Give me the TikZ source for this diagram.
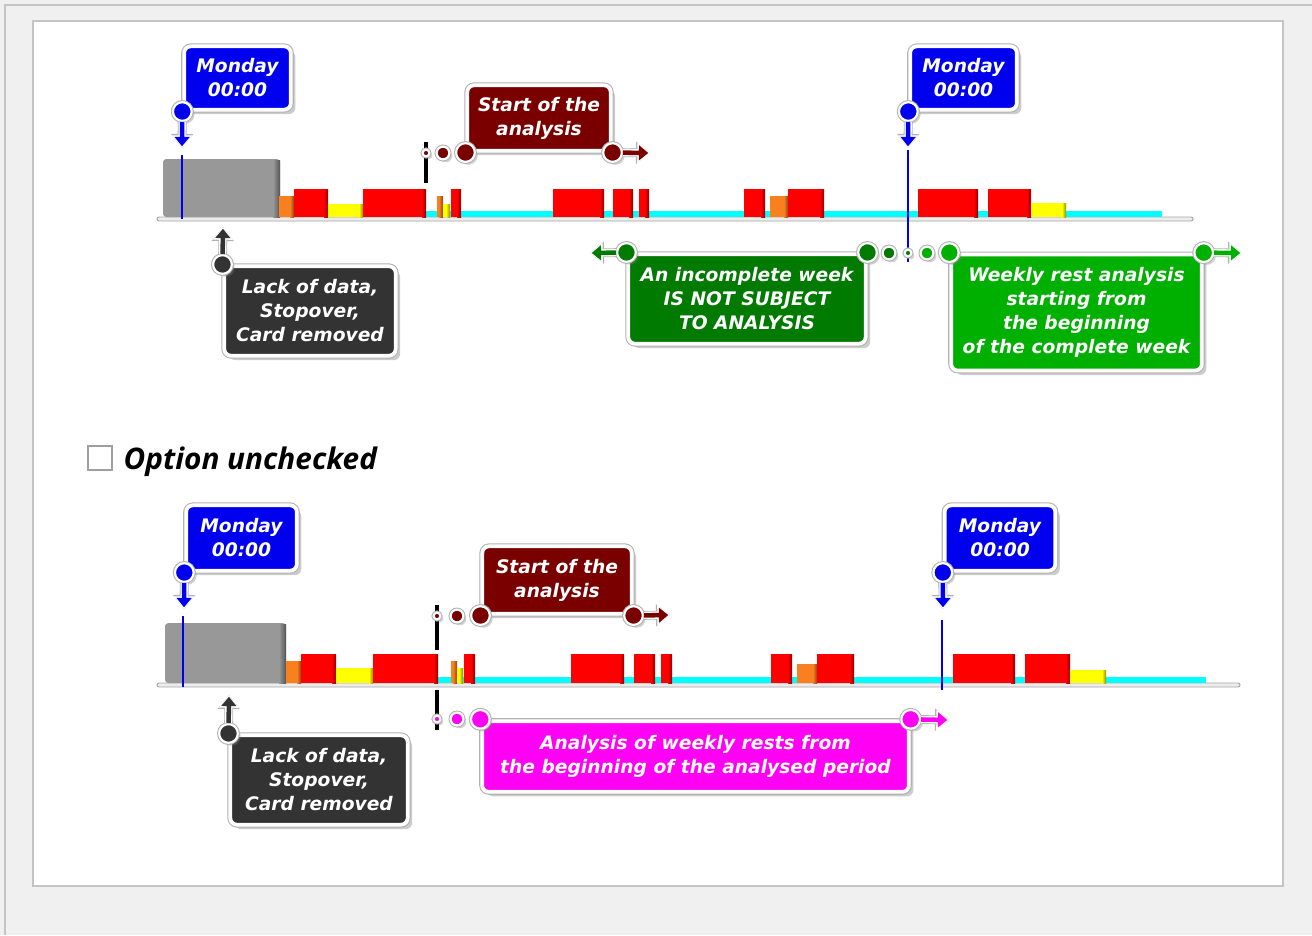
\documentclass[tikz,border=0pt]{standalone}
\usepackage{fontspec}
\usetikzlibrary{arrows.meta,positioning,shadows}
\newfontfamily\calloutfont{DejaVu Sans}[BoldItalicFont={DejaVu Sans Bold Oblique}]
\newfontfamily\optionfont{Open Sans}
\definecolor{pagegrey}{HTML}{F0F0F0}
\definecolor{framegrey}{HTML}{C4C4C4}
\definecolor{monblue}{HTML}{0000EE}
\definecolor{startred}{HTML}{7A0000}
\definecolor{weekgreen}{HTML}{007A00}
\definecolor{restgreen}{HTML}{00B000}
\definecolor{periodpink}{HTML}{FF00F4}
\definecolor{lackgrey}{HTML}{333333}
\definecolor{blockgrey}{HTML}{989898}
\definecolor{tlred}{HTML}{FF0000}
\definecolor{tlorange}{HTML}{F8801E}
\definecolor{tlyellow}{HTML}{FFFF00}
\definecolor{tlcyan}{HTML}{00FFFF}
\tikzset{
  notebox/.style={rounded corners=5pt, inner sep=0pt, align=center, text=white,
    font=\calloutfont\bfseries\itshape\fontsize{14}{18}\selectfont,
    drop shadow={shadow xshift=3.4pt,shadow yshift=-3.4pt,opacity=.4},
    preaction={draw=gray!60,line width=4.4pt},
    draw=white, line width=2.8pt},
  knob/.style={circle, inner sep=0pt, minimum size=#1, draw=white, line width=1.6pt,
    drop shadow={shadow xshift=2.2pt,shadow yshift=-2.2pt,opacity=.35},
    preaction={draw=gray!60,line width=3.2pt}},
  knobarrow/.style={draw=#1, line width=3.4pt, shorten >=1.3pt, -{Triangle[length=7pt,width=11pt]},
    preaction={draw=gray!60, line width=6.6pt, shorten >=0pt, -{Triangle[length=10.5pt,width=16pt]}},
    preaction={draw=white, line width=5.4pt, shorten >=0pt, -{Triangle[length=9.5pt,width=14.5pt]}}},
  slot/.style={fill=#1},
  slotedge/.style={left color=#1, right color=#1!55!black},
  axisbar/.style={fill=gray!15, draw=gray!70, line width=.7pt, rounded corners=1.5pt},
  dayline/.style={draw=monblue, line width=2.2pt},
  startmark/.style={draw=black, line width=2.4pt},
}
\begin{document}
\begin{tikzpicture}[x=0.75pt,y=-0.75pt]
  \fill[pagegrey] (0,0) rectangle (1312,935);
  \useasboundingbox (0,0) rectangle (1312,935);
  \draw[framegrey, line width=1.2pt] (5,935) -- (5,5) -- (1312,5);
  \draw[fill=white, draw=framegrey, line width=1pt] (33,21) rectangle (1283,886);

  % option checked
  \draw[axisbar] (157,217) rectangle (1193,221);
  \fill[slot=tlcyan] (426,211) rectangle (1162,217);
  \fill[slot=blockgrey, rounded corners=2.5pt] (163,217) rectangle (280,159);
  \fill[slotedge=blockgrey] (273,160) rectangle (280,217);
  \foreach \xa/\xb/\yt/\col in {279/294/196/tlorange, 294/328/189/tlred, 328/363/204/tlyellow,
      363/426/189/tlred, 437/443/196/tlorange, 443/450/204/tlyellow, 451/461/189/tlred,
      553/604/189/tlred, 613/633/189/tlred, 639/649/189/tlred, 744/765/189/tlred,
      770/788/196/tlorange, 788/824/189/tlred, 918/978/189/tlred, 988/1031/189/tlred,
      1031/1066/203/tlyellow}
    {\fill[slot=\col] (\xa,\yt) rectangle (\xb,217);
     \fill[slotedge=\col] (\xb-4,\yt) rectangle (\xb,217);}
  \draw[dayline] (182,155) -- (182,219);
  \draw[dayline] (908,150) -- (908,262);
  \draw[startmark] (426,142) -- (426,183);

  \node[notebox, fill=monblue, minimum width=80pt, minimum height=47.5pt] (mon1) at (237.5,78) {Monday\\00:00};
  \node[knob=14pt, fill=monblue] (pin1) at (mon1.south west) {};
  \coordinate (tip1) at (182,148);
  \draw[knobarrow=monblue] (pin1) -- (tip1);

  \node[notebox, fill=monblue, minimum width=80pt, minimum height=47.5pt] (mon2) at (963.5,78) {Monday\\00:00};
  \node[knob=14pt, fill=monblue] (pin2) at (mon2.south west) {};
  \coordinate (tip2) at (908,148);
  \draw[knobarrow=monblue] (pin2) -- (tip2);

  \node[notebox, fill=startred, minimum width=107.5pt, minimum height=49pt] (st1) at (539,118) {Start of the\\analysis};
  \node[knob=14pt, fill=startred] (st1a) at (st1.south west) {};
  \node[knob=9.5pt, fill=startred] (st1b) at (443,153) {};
  \node[knob=5pt, fill=startred] (st1c) at (426,153) {};
  \node[knob=14pt, fill=startred] (st1d) at (st1.south east) {};
  \coordinate (st1e) at (650,153);
  \draw[knobarrow=startred] (st1d) -- (st1e);

  \node[notebox, fill=lackgrey, minimum width=128.5pt, minimum height=67pt] (lk1) at (310,311) {Lack of data,\\Stopover,\\Card removed};
  \node[knob=14pt, fill=lackgrey] (lk1a) at (lk1.north west) {};
  \coordinate (lk1b) at (223,227);
  \draw[knobarrow=lackgrey] (lk1a) -- (lk1b);

  \node[notebox, fill=weekgreen, minimum width=178pt, minimum height=67pt] (gd) at (747,299) {An incomplete week\\IS NOT SUBJECT\\TO ANALYSIS};
  \node[notebox, fill=restgreen, minimum width=188pt, minimum height=87pt] (gb) at (1076.5,312.5) {Weekly rest analysis\\starting from\\the beginning\\of the complete week};
  \node[knob=14pt, fill=weekgreen] (gd1) at (gd.north west) {};
  \coordinate (gd0) at (590,253);
  \draw[knobarrow=weekgreen] (gd1) -- (gd0);
  \node[knob=14pt, fill=weekgreen] (gd2) at (gd.north east) {};
  \node[knob=9.5pt, fill=weekgreen] (gd3) at (889,253) {};
  \node[knob=5pt, fill=weekgreen] (gd4) at (908,253) {};
  \node[knob=9.5pt, fill=restgreen] (gb1) at (927,253) {};
  \node[knob=14pt, fill=restgreen] (gb2) at (gb.north west) {};
  \node[knob=14pt, fill=restgreen] (gb3) at (gb.north east) {};
  \coordinate (gb4) at (1242,253);
  \draw[knobarrow=restgreen] (gb3) -- (gb4);

  % option unchecked
  \node[draw=gray!75, fill=white, line width=1.2pt, minimum size=18pt, inner sep=0pt] (chk) at (100,458) {};
  \node[right=8pt of chk, yshift=-3pt, inner sep=0pt, font=\optionfont\bfseries\itshape\fontsize{22.3}{26}\selectfont] (opt) {Option unchecked};

  \draw[axisbar] (157,683) rectangle (1240,687);
  \fill[slot=tlcyan] (438,677) rectangle (1206,683);
  \fill[slot=blockgrey, rounded corners=2.5pt] (165,683) rectangle (286,623);
  \fill[slotedge=blockgrey] (279,624) rectangle (286,683);
  \foreach \xa/\xb/\yt/\col in {286/301/661/tlorange, 301/336/654/tlred, 336/373/668/tlyellow,
      373/438/654/tlred, 451/457/661/tlorange, 457/463/668/tlyellow, 464/475/654/tlred,
      571/624/654/tlred, 634/655/654/tlred, 661/672/654/tlred, 771/792/654/tlred,
      797/817/664/tlorange, 817/854/654/tlred, 953/1015/654/tlred, 1025/1070/654/tlred,
      1070/1106/670/tlyellow}
    {\fill[slot=\col] (\xa,\yt) rectangle (\xb,683);
     \fill[slotedge=\col] (\xb-4,\yt) rectangle (\xb,683);}
  \draw[dayline] (183,616) -- (183,687);
  \draw[dayline] (942,620) -- (942,690);
  \draw[startmark] (437,605) -- (437,650);
  \draw[startmark] (437,690) -- (437,730);

  \node[notebox, fill=monblue, minimum width=83pt, minimum height=49pt] (mon3) at (241.5,538) {Monday\\00:00};
  \node[knob=14pt, fill=monblue] (pin3) at (mon3.south west) {};
  \coordinate (tip3) at (184,609);
  \draw[knobarrow=monblue] (pin3) -- (tip3);

  \node[notebox, fill=monblue, minimum width=83pt, minimum height=49pt] (mon4) at (1000,538) {Monday\\00:00};
  \node[knob=14pt, fill=monblue] (pin4) at (mon4.south west) {};
  \coordinate (tip4) at (943,609);
  \draw[knobarrow=monblue] (pin4) -- (tip4);

  \node[notebox, fill=startred, minimum width=112pt, minimum height=50.5pt] (st2) at (557,580) {Start of the\\analysis};
  \node[knob=14pt, fill=startred] (st2a) at (st2.south west) {};
  \node[knob=9.5pt, fill=startred] (st2b) at (457,616) {};
  \node[knob=5pt, fill=startred] (st2c) at (437,616) {};
  \node[knob=14pt, fill=startred] (st2d) at (st2.south east) {};
  \coordinate (st2e) at (670,615);
  \draw[knobarrow=startred] (st2d) -- (st2e);

  \node[notebox, fill=lackgrey, minimum width=133pt, minimum height=67pt] (lk2) at (319,780) {Lack of data,\\Stopover,\\Card removed};
  \node[knob=14pt, fill=lackgrey] (lk2a) at (lk2.north west) {};
  \coordinate (lk2b) at (229,695);
  \draw[knobarrow=lackgrey] (lk2a) -- (lk2b);

  \node[notebox, fill=periodpink, minimum width=320pt, minimum height=53pt] (mg) at (695.5,756.5) {Analysis of weekly rests from\\the beginning of the analysed period};
  \node[knob=14pt, fill=periodpink] (mg1) at (mg.north west) {};
  \node[knob=9.5pt, fill=periodpink] (mg2) at (457,719) {};
  \node[knob=5pt, fill=periodpink] (mg3) at (437,719) {};
  \node[knob=14pt, fill=periodpink] (mg4) at (mg.north east) {};
  \coordinate (mg5) at (949,720);
  \draw[knobarrow=periodpink] (mg4) -- (mg5);
\end{tikzpicture}
\end{document}
